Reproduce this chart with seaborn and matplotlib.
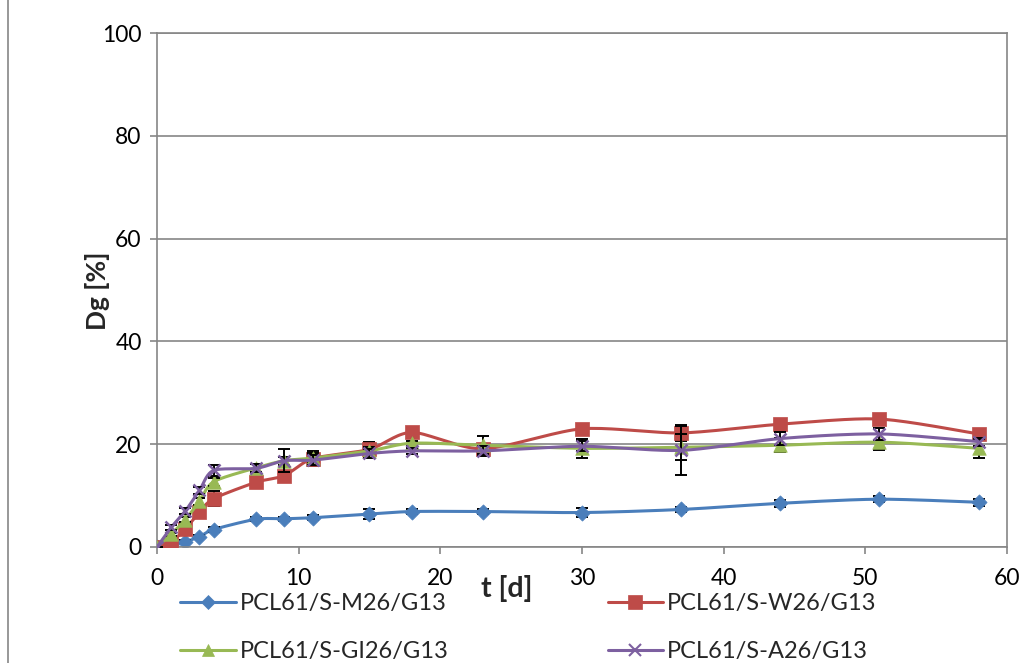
import numpy as np
import pandas as pd
import matplotlib
matplotlib.use("Agg")
import matplotlib.pyplot as plt
from matplotlib.lines import Line2D
import seaborn as sns

# --- data ---
t_days = [0, 1, 2, 3, 4, 7, 9, 11, 15, 18, 23, 30, 37, 44, 51, 58]

m26 = [0, 0.3, 1.0, 2.0, 3.4, 5.4, 5.5, 5.7, 6.4, 6.9, 6.9, 6.7, 7.3, 8.5, 9.3, 8.7]
w26 = [0, 1.0, 3.5, 6.8, 9.4, 12.6, 13.9, 17.2, 19.0, 22.3, 19.1, 23.0, 22.2, 23.9, 24.9, 22.0]
gi26 = [0, 2.5, 5.3, 8.9, 12.7, 15.4, 16.8, 17.3, 18.7, 20.2, 19.8, 19.2, 19.4, 19.8, 20.4, 19.2]
a26 = [0, 3.8, 7.0, 11.0, 14.9, 15.3, 16.8, 16.9, 18.2, 18.7, 18.7, 19.6, 18.8, 21.1, 22.0, 20.5]

err_m26 = [0, 0.2, 0.3, 0.3, 0.4, 0.4, 0.4, 0.5, 1.0, 0.5, 0.5, 0.9, 0.5, 0.7, 0.6, 0.7]
err_w26 = [0, 0.3, 0.5, 0.7, 1.5, 0.8, 0.8, 1.5, 1.5, 0.8, 0.7, 0.8, 1.5, 1.0, 1.0, 0.8]
err_gi26 = [0, 0.3, 0.5, 0.7, 0.8, 0.8, 0.8, 1.0, 0.7, 0.5, 1.8, 1.8, 2.5, 1.4, 1.6, 1.8]
err_a26 = [0, 0.4, 0.6, 0.7, 1.0, 0.8, 2.3, 1.0, 0.9, 0.6, 1.0, 1.0, 4.8, 1.2, 1.2, 0.8]

labels = ["PCL61/S-M26/G13", "PCL61/S-W26/G13", "PCL61/S-GI26/G13", "PCL61/S-A26/G13"]
colors = ["#4A7EBB", "#BE4B48", "#98B954", "#7D60A0"]
markers = ["D", "s", "^", "x"]
msizes = [60, 115, 95, 75]


def smooth(x, y, n=20):
    # Catmull-Rom curve through the points, like Excel's smoothed line
    x = np.asarray(x, float)
    y = np.asarray(y, float)
    px = np.concatenate([[x[0]], x, [x[-1]]])
    py = np.concatenate([[y[0]], y, [y[-1]]])
    xs, ys = [], []
    s = np.linspace(0, 1, n)
    for i in range(1, len(px) - 2):
        for p, out in ((px, xs), (py, ys)):
            p0, p1, p2, p3 = p[i - 1], p[i], p[i + 1], p[i + 2]
            m1 = (p2 - p0) / 2 * 0.8
            m2 = (p3 - p1) / 2 * 0.8
            h00 = 2 * s**3 - 3 * s**2 + 1
            h10 = s**3 - 2 * s**2 + s
            h01 = -2 * s**3 + 3 * s**2
            h11 = s**3 - s**2
            out.extend(h00 * p1 + h10 * m1 + h01 * p2 + h11 * m2)
    return np.array(xs), np.array(ys)


sns.set_style("white")
plt.rcParams["font.family"] = ["Lato", "DejaVu Sans"]

fig = plt.figure(figsize=(10.36, 6.63), dpi=100)
ax = fig.add_axes([0.1515, 0.175, 0.8205, 0.775])

series = [(m26, err_m26), (w26, err_w26), (gi26, err_gi26), (a26, err_a26)]
for i, (vals, errs) in enumerate(series):
    xs, ys = smooth(t_days, vals)
    ax.plot(xs, ys, color=colors[i], lw=2.2, zorder=2 + i)
    ax.errorbar(t_days, vals, yerr=errs, fmt="none", ecolor="black",
                elinewidth=1.4, capsize=4, capthick=1.4, zorder=2 + i)
    df = pd.DataFrame({"t": t_days, "v": vals})
    if markers[i] == "x":
        sns.scatterplot(data=df, x="t", y="v", ax=ax, marker="x", s=msizes[i],
                        color=colors[i], linewidth=1.8, zorder=2.5 + i)
    else:
        sns.scatterplot(data=df, x="t", y="v", ax=ax, marker=markers[i], s=msizes[i],
                        color=colors[i], edgecolor=colors[i], linewidth=0.5, zorder=2.5 + i)

ax.set_xlim(0, 60)
ax.set_ylim(0, 100)
ax.set_xticks(range(0, 61, 10))
ax.set_yticks(range(0, 101, 20))
ax.yaxis.grid(True, color="#868686", lw=1.2)
ax.xaxis.grid(False)
for sp in ax.spines.values():
    sp.set_color("#868686")
    sp.set_linewidth(1.2)
ax.tick_params(axis="both", labelsize=16.5, colors="black", length=5, width=1.2,
               direction="out", bottom=True, left=True)
ax.tick_params(axis="x", color="#868686", pad=10)
ax.tick_params(axis="y", color="#868686", pad=6)
ax.set_xlabel("")
ax.set_ylabel("")

fig.text(0.489, 0.113, "t [d]", fontsize=20.5, fontweight="bold", ha="center", va="center")
fig.text(0.094, 0.562, "Dg [%]", fontsize=19, fontweight="bold", rotation=90,
         ha="center", va="center")

handles = [Line2D([], [], color=colors[i], marker=markers[i], lw=2.2,
                  markersize=[7, 10, 9, 8][i], markeredgewidth=1.5 if markers[i] == "x" else 0.5)
           for i in range(4)]
# column-first fill: reorder so rows read M, W / GI, A
order = [0, 2, 1, 3]
fig.legend([handles[k] for k in order], [labels[k] for k in order], ncol=2,
           loc="upper left", bbox_to_anchor=(0.165, 0.12),
           frameon=False, fontsize=17, handlelength=2.35, columnspacing=6.75,
           labelspacing=1.15, handletextpad=0.15, borderaxespad=0)

fig.add_artist(Line2D([0.008, 0.008], [0, 1], color="#868686", lw=1.2))

fig.savefig("out.png", dpi=100)
